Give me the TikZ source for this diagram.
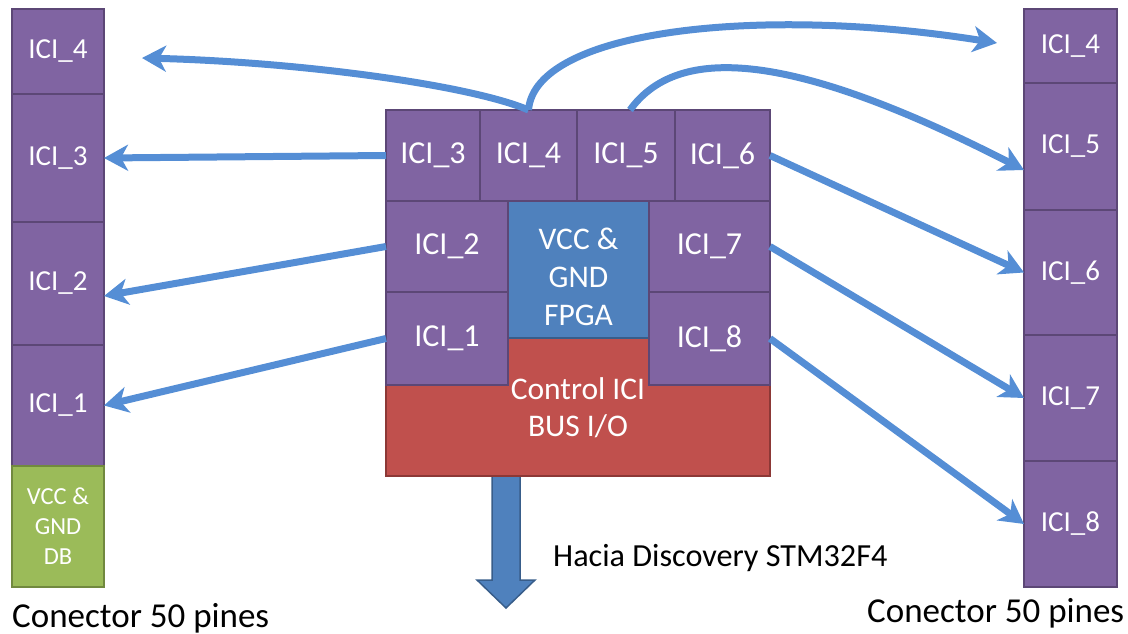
\documentclass[tikz,border=0pt]{standalone}
\usepackage{fontspec}
\setmainfont{Carlito}
\usetikzlibrary{arrows.meta}
\definecolor{icifill}{HTML}{8064A2}
\definecolor{iciline}{HTML}{5C4776}
\definecolor{fpgafill}{HTML}{4F81BD}
\definecolor{fpgaline}{HTML}{385D8A}
\definecolor{ctrlfill}{HTML}{C0504D}
\definecolor{ctrlline}{HTML}{8C3836}
\definecolor{dbfill}{HTML}{9BBB59}
\definecolor{dbline}{HTML}{71893F}
\definecolor{linkblue}{HTML}{558ED5}
\tikzset{
  box/.style={line width=1.5pt, text=white, inner sep=0pt, outer sep=0pt, anchor=north west, align=center},
  ici/.style={box, draw=iciline, fill=icifill, font=\fontsize{32}{37}\selectfont},
  pin/.style={ici, minimum width=92pt, font=\fontsize{29}{34}\selectfont},
  link/.style={draw=linkblue, line width=7pt, -{Stealth[length=24pt,width=26pt,inset=7pt]}},
  caption/.style={anchor=base west, inner sep=0pt, font=\fontsize{35}{40}\selectfont}
}
\begin{document}
\begin{tikzpicture}[x=1pt,y=-1pt]
  \useasboundingbox (0,0) rectangle (1128,634);
  % left connector
  \node[pin, minimum height=85pt] (lI4) at (12,9) {ICI\_4};
  \node[pin, minimum height=128pt] (lI3) at (12,94) {ICI\_3};
  \node[pin, minimum height=123pt] (lI2) at (12,222) {ICI\_2};
  \node[pin, minimum height=121pt] (lI1) at (12,345) {ICI\_1};
  \node[box, draw=dbline, fill=dbfill, minimum width=92pt, minimum height=121pt, font=\fontsize{24.5}{30}\selectfont] (ldb) at (12,466) {VCC \&\\GND\\DB};
  \node[caption] (lcap) at (12,627) {Conector 50 pines};
  % right connector
  \node[pin, minimum width=93pt, minimum height=74pt] (rI4) at (1024,9) {ICI\_4};
  \node[pin, minimum width=93pt, minimum height=127pt] (rI5) at (1024,83) {ICI\_5};
  \node[pin, minimum width=93pt, minimum height=125pt] (rI6) at (1024,210) {ICI\_6};
  \node[pin, minimum width=93pt, minimum height=126pt] (rI7) at (1024,335) {ICI\_7};
  \node[pin, minimum width=93pt, minimum height=126pt] (rI8) at (1024,461) {ICI\_8};
  \node[caption] (rcap) at (867,622) {Conector 50 pines};
  % bus arrow
  \filldraw[fill=fpgafill, draw=fpgaline, line width=1.5pt] (492,476) -- (492,580) -- (477,580) -- (506,608) -- (535,580) -- (520,580) -- (520,476) -- cycle;
  \node[caption, font=\fontsize{32.2}{38}\selectfont] (hacia) at (553,566) {Hacia Discovery STM32F4};
  % FPGA board
  \node[box, draw=ctrlline, fill=ctrlfill, minimum width=384pt, minimum height=138pt] (ctrl) at (386,338) {};
  \node[box, draw=fpgaline, fill=fpgafill, minimum width=141pt, minimum height=137pt, font=\fontsize{31.5}{38}\selectfont] (fpga) at (508,201) {\rule{0pt}{36pt}VCC \&\\GND\\FPGA};
  \node[ici, minimum width=94pt, minimum height=91pt] (cI3) at (386,110) {ICI\_3};
  \node[ici, minimum width=97pt, minimum height=91pt] (cI4) at (480,110) {ICI\_4};
  \node[ici, minimum width=98pt, minimum height=91pt] (cI5) at (577,110) {ICI\_5};
  \node[ici, minimum width=95pt, minimum height=91pt] (cI6) at (675,110) {ICI\_6};
  \node[ici, minimum width=122pt, minimum height=91pt] (cI2) at (386,201) {ICI\_2};
  \node[ici, minimum width=122pt, minimum height=93pt] (cI1) at (386,292) {ICI\_1};
  \node[ici, minimum width=121pt, minimum height=91pt] (cI7) at (649,201) {ICI\_7};
  \node[ici, minimum width=121pt, minimum height=93pt] (cI8) at (649,292) {ICI\_8};
  \node[text=white, align=center, font=\fontsize{31.5}{37}\selectfont] (ctrltxt) at (578,408) {Control ICI\\BUS I/O};
  % links
  \draw[link] (cI3.west) -- (lI3.east);
  \draw[link] (cI2.west) -- ([yshift=-12.5pt]lI2.east);
  \draw[link] (cI1.west) -- (lI1.east);
  \draw[link] (cI4.north) .. controls (470,85) and (300,62) .. ([xshift=38pt,yshift=-6.5pt]lI4.east);
  \draw[link] (cI4.north) .. controls (535,30) and (760,5) .. ([xshift=-27pt,yshift=3pt]rI4.west);
  \draw[link] ([xshift=4pt]cI5.north) .. controls (675,48) and (780,45) .. ([yshift=-23.5pt]rI5.west);
  \draw[link] (cI6.east) -- (rI6.west);
  \draw[link] (cI7.east) -- (rI7.west);
  \draw[link] (cI8.east) -- (rI8.west);
\end{tikzpicture}
\end{document}
